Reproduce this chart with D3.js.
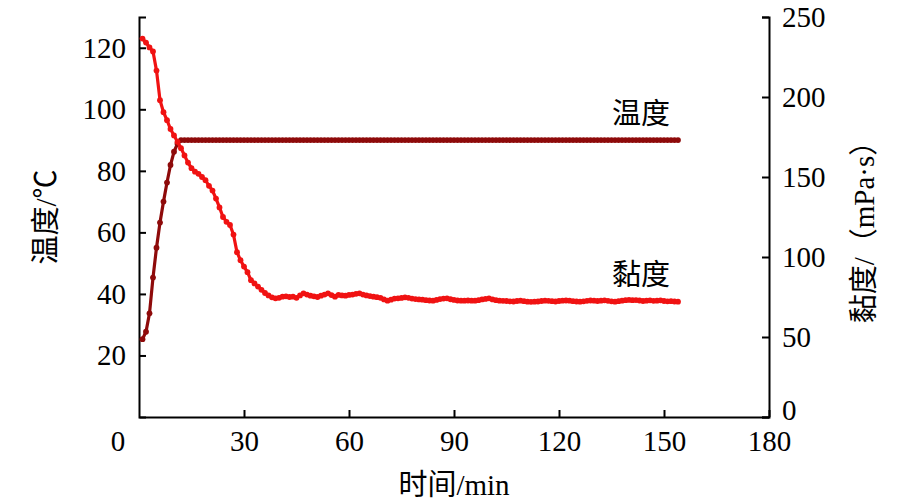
<!DOCTYPE html>
<html>
<head>
<meta charset="utf-8">
<script src="https://cdn.jsdelivr.net/npm/d3@7"></script>
<style>
  html, body { margin: 0; padding: 0; background: #fff; }
  svg text { font-family: "Liberation Serif", "Noto Sans CJK SC", serif; fill: #000; }
</style>
</head>
<body>
<svg id="chart" width="915" height="503"></svg>
<script>
// 时间 (min)
var minutes = [
  1, 2, 3, 4, 5, 6, 7, 8, 9, 10, 11, 12, 13, 14, 15, 16, 17, 18, 19, 20,
  21, 22, 23, 24, 25, 26, 27, 28, 29, 30, 31, 32, 33, 34, 35, 36, 37, 38, 39, 40,
  41, 42, 43, 44, 45, 46, 47, 48, 49, 50, 51, 52, 53, 54, 55, 56, 57, 58, 59, 60,
  61, 62, 63, 64, 65, 66, 67, 68, 69, 70, 71, 72, 73, 74, 75, 76, 77, 78, 79, 80,
  81, 82, 83, 84, 85, 86, 87, 88, 89, 90, 91, 92, 93, 94, 95, 96, 97, 98, 99, 100,
  101, 102, 103, 104, 105, 106, 107, 108, 109, 110, 111, 112, 113, 114, 115, 116, 117, 118, 119, 120,
  121, 122, 123, 124, 125, 126, 127, 128, 129, 130, 131, 132, 133, 134, 135, 136, 137, 138, 139, 140,
  141, 142, 143, 144, 145, 146, 147, 148, 149, 150, 151, 152, 153, 154
];

// 温度 (℃)
var temperature = [
  25.3, 27.7, 33.7, 45.3, 55.0, 63.2, 70.0, 76.2, 81.9, 86.2, 88.8, 90, 90, 90, 90, 90, 90, 90, 90, 90,
  90, 90, 90, 90, 90, 90, 90, 90, 90, 90, 90, 90, 90, 90, 90, 90, 90, 90, 90, 90,
  90, 90, 90, 90, 90, 90, 90, 90, 90, 90, 90, 90, 90, 90, 90, 90, 90, 90, 90, 90,
  90, 90, 90, 90, 90, 90, 90, 90, 90, 90, 90, 90, 90, 90, 90, 90, 90, 90, 90, 90,
  90, 90, 90, 90, 90, 90, 90, 90, 90, 90, 90, 90, 90, 90, 90, 90, 90, 90, 90, 90,
  90, 90, 90, 90, 90, 90, 90, 90, 90, 90, 90, 90, 90, 90, 90, 90, 90, 90, 90, 90,
  90, 90, 90, 90, 90, 90, 90, 90, 90, 90, 90, 90, 90, 90, 90, 90, 90, 90, 90, 90,
  90, 90, 90, 90, 90, 90, 90, 90, 90, 90, 90, 90, 90, 90
];

// 黏度 (mPa·s)
var viscosity = [
  236.5, 234.0, 231.0, 228.5, 216.5, 198.0, 190.5, 185.5, 180.0, 176.0,
  172.0, 168.0, 163.5, 159.0, 155.5, 153.3, 152.0, 150.0, 148.0, 144.5,
  141.5, 136.5, 131.0, 125.0, 122.0, 120.0, 114.0, 103.0, 98.0, 94.0,
  90.5, 85.5, 83.5, 81.5, 79.5, 77.5, 76.0, 74.8, 74.2, 74.5,
  75.2, 75.4, 75.0, 75.2, 74.5, 76.0, 77.3, 76.5, 75.8, 75.4,
  75.0, 75.8, 76.5, 77.3, 76.2, 75.2, 76.3, 76.0, 75.8, 76.3,
  76.5, 77.0, 77.3, 76.5, 76.0, 75.6, 75.2, 74.9, 74.5, 73.5,
  72.7, 73.3, 74.0, 74.2, 74.4, 74.8, 74.5, 74.0, 73.7, 73.5,
  73.3, 73.0, 72.8, 72.7, 73.2, 73.7, 74.0, 74.2, 73.6, 73.2,
  72.8, 72.7, 72.7, 72.8, 72.7, 72.7, 73.0, 73.5, 73.8, 74.2,
  73.5, 73.0, 72.7, 72.6, 72.5, 72.3, 72.2, 72.5, 72.7, 72.4,
  72.1, 72.0, 72.1, 72.2, 72.5, 72.7, 72.6, 72.4, 72.2, 72.5,
  72.7, 72.8, 72.7, 72.4, 72.2, 72.1, 72.3, 72.6, 72.8, 72.7,
  72.5, 72.7, 72.9, 72.6, 72.3, 72.1, 72.4, 72.7, 73.0, 73.2,
  73.0, 73.1, 72.8, 72.5, 72.7, 72.9, 72.6, 72.7, 72.9, 72.5,
  72.3, 72.4, 72.2, 72.1
];

var xTicks = [30, 60, 90, 120, 150, 180];
var tempTicks = [20, 40, 60, 80, 100, 120];
var viscTicks = [0, 50, 100, 150, 200, 250];

var svg = d3.select("#chart");
var fontSize = 29;

var x = d3.scaleLinear().domain([0, 180]).range([139, 769]);
var yT = d3.scaleLinear().domain([0, 130]).range([417, 17]);
var yV = d3.scaleLinear().domain([0, 250]).range([417, 17]);

function styleAxis(g) {
    g.selectAll("path, line").attr("stroke", "#000").attr("stroke-width", 2);
    g.selectAll("text").attr("font-size", fontSize).attr("fill", "#000")
        .attr("font-family", "Liberation Serif, serif");
}

//坐标轴
svg.append("g")
    .attr("transform", "translate(0,417)")
    .call(d3.axisBottom(x).tickValues(xTicks).tickSize(-7).tickSizeOuter(0).tickPadding(13))
    .call(styleAxis);

svg.append("g")
    .attr("transform", "translate(139,0)")
    .call(d3.axisLeft(yT).tickValues(tempTicks).tickSize(-7).tickSizeOuter(-7).tickPadding(13))
    .call(styleAxis);

var rightAxis = svg.append("g")
    .attr("transform", "translate(769,0)")
    .call(d3.axisRight(yV).tickValues(viscTicks).tickSize(-7).tickSizeOuter(-7).tickPadding(13))
    .call(styleAxis);

// 右轴 0 稍微上移, 避免压住 180
rightAxis.selectAll(".tick").filter(function(d) { return d === 0; })
    .select("text").attr("dy", "0.1em");

// 原点 0
svg.append("text")
    .attr("x", x(0) - 21).attr("y", 430).attr("dy", "0.71em")
    .attr("text-anchor", "middle").attr("font-size", fontSize)
    .text("0");

//轴标题
svg.append("text")
    .attr("x", x(90)).attr("y", 495)
    .attr("text-anchor", "middle").attr("font-size", fontSize)
    .text("时间/min");

svg.append("text")
    .attr("transform", "translate(56,217) rotate(-90)")
    .attr("text-anchor", "middle").attr("font-size", fontSize)
    .text("温度/℃");

svg.append("text")
    .attr("transform", "translate(874,225) rotate(-90)")
    .attr("text-anchor", "middle").attr("font-size", fontSize)
    .text("黏度/（mPa·s）");

//曲线
function drawSeries(values, y, color) {
    var pts = minutes.map(function(t, i) { return [t, values[i]]; });
    var line = d3.line()
        .x(function(d) { return x(d[0]); })
        .y(function(d) { return y(d[1]); });
    svg.append("path")
        .datum(pts)
        .attr("fill", "none")
        .attr("stroke", color)
        .attr("stroke-width", 3.2)
        .attr("d", line);
    svg.append("g").selectAll("circle")
        .data(pts).enter()
        .append("circle")
        .attr("cx", function(d) { return x(d[0]); })
        .attr("cy", function(d) { return y(d[1]); })
        .attr("r", 2.9)
        .attr("fill", color);
}

drawSeries(temperature, yT, "#8e0a0a");
drawSeries(viscosity, yV, "#f01212");

// 曲线标注
svg.append("text")
    .attr("x", 641).attr("y", 124)
    .attr("text-anchor", "middle").attr("font-size", fontSize)
    .text("温度");

svg.append("text")
    .attr("x", 641).attr("y", 285)
    .attr("text-anchor", "middle").attr("font-size", fontSize)
    .text("黏度");
</script>
</body>
</html>
